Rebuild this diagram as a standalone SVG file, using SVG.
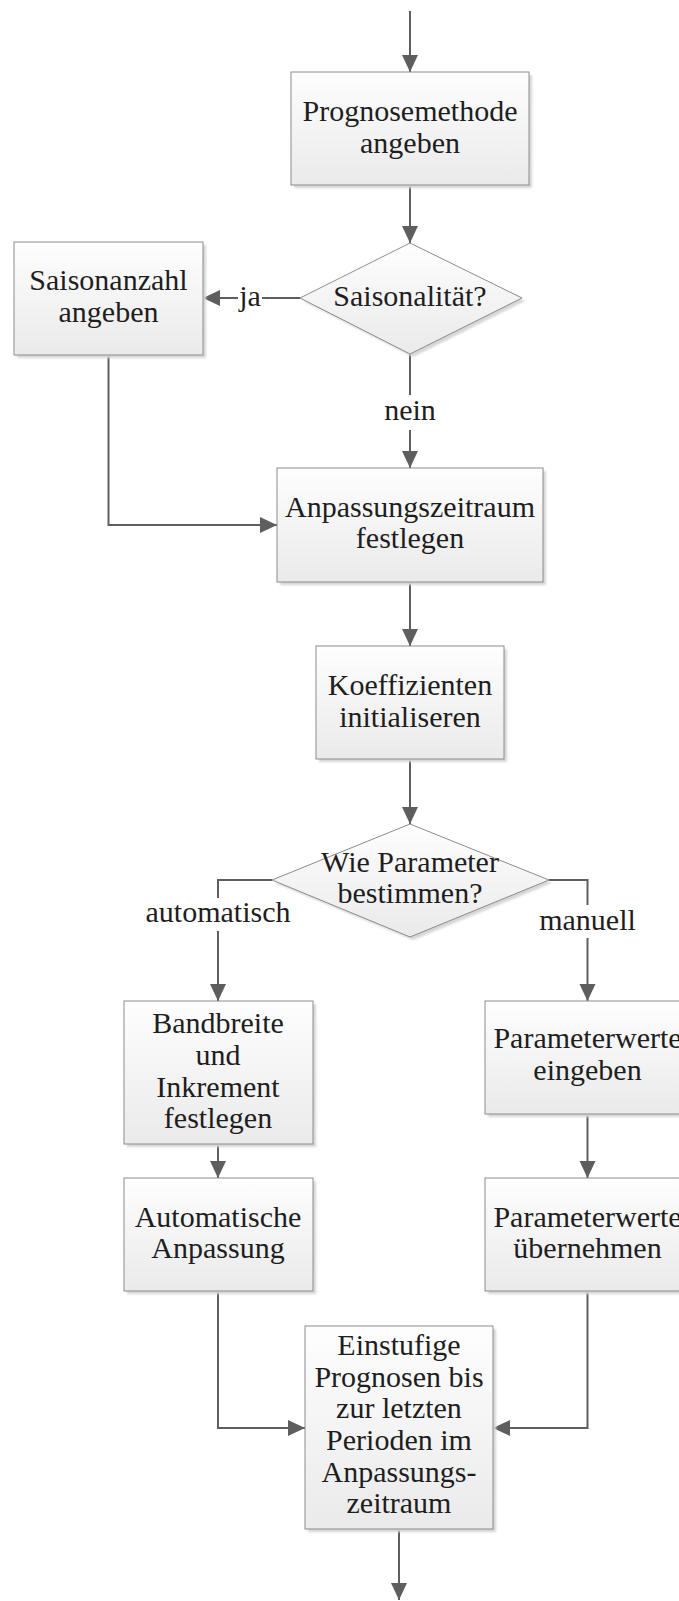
<svg xmlns="http://www.w3.org/2000/svg" width="679" height="1601" viewBox="0 0 679 1601">
<style>
.box{fill:url(#g);stroke:#8c8c8c;stroke-width:1}
.sh{fill:#d6d6d6;filter:url(#blur)}
.t{font-family:"Liberation Serif","Times New Roman",serif;font-size:30px;fill:#1e1e1e;text-anchor:middle}
.c{fill:none;stroke:#5e5e5e;stroke-width:2}
.a{marker-end:url(#ah)}
</style>
<defs>
<linearGradient id="g" x1="0" y1="0" x2="0" y2="1">
<stop offset="0" stop-color="#fefefe"/>
<stop offset="1" stop-color="#eaeaea"/>
</linearGradient>
<filter id="blur" x="-10%" y="-10%" width="120%" height="120%"><feGaussianBlur stdDeviation="1.2"/></filter>
<marker id="ah" markerUnits="userSpaceOnUse" markerWidth="18" markerHeight="18" refX="17" refY="8" orient="auto">
<path d="M0,0 L17,8 L0,16 z" fill="#5e5e5e"/>
</marker>
</defs>
<rect width="679" height="1601" fill="#ffffff"/>

<g id="connectors">
<path class="c a" d="M410,11 V72"/>
<path class="c a" d="M410,185 V243"/>
<path class="c" d="M300,298 H262"/>
<path class="c a" d="M238,298 H203"/>
<text class="t" x="250" y="306">ja</text>
<path class="c" d="M410,354 V395"/>
<path class="c a" d="M410,430 V468"/>
<text class="t" x="410" y="420">nein</text>
<path class="c a" d="M108.5,355 V525 H277"/>
<path class="c a" d="M410,582 V646"/>
<path class="c a" d="M410,759 V824"/>
<path class="c" d="M272,880 H218 V898"/>
<path class="c a" d="M218,931 V1001"/>
<text class="t" x="218" y="922">automatisch</text>
<path class="c" d="M549,880 H587.5 V905"/>
<path class="c a" d="M587.5,938 V1001"/>
<text class="t" x="587.5" y="930">manuell</text>
<path class="c a" d="M218,1144 V1178"/>
<path class="c a" d="M587.5,1114 V1178"/>
<path class="c a" d="M218,1291 V1428 H305"/>
<path class="c a" d="M587.5,1291 V1428 H493"/>
<path class="c a" d="M399,1529 V1600"/>
</g>

<g id="prognosemethode">
<rect class="sh" x="294" y="75" width="238" height="113"/>
<rect class="box" x="291" y="72" width="238" height="113"/>
<text class="t" x="410" y="121">Prognosemethode</text>
<text class="t" x="410" y="153">angeben</text>
</g>

<g id="saisonalitaet">
<polygon class="sh" points="413,246 525,301 413,357 303,301"/>
<polygon class="box" points="410,243 522,298 410,354 300,298"/>
<text class="t" x="410" y="306">Saisonalität?</text>
</g>

<g id="saisonanzahl">
<rect class="sh" x="17" y="245" width="189" height="113"/>
<rect class="box" x="14" y="242" width="189" height="113"/>
<text class="t" x="108.5" y="290">Saisonanzahl</text>
<text class="t" x="108.5" y="322">angeben</text>
</g>

<g id="anpassungszeitraum">
<rect class="sh" x="280" y="471" width="266" height="114"/>
<rect class="box" x="277" y="468" width="266" height="114"/>
<text class="t" x="410" y="517">Anpassungszeitraum</text>
<text class="t" x="410" y="548">festlegen</text>
</g>

<g id="koeffizienten">
<rect class="sh" x="319" y="649" width="188" height="113"/>
<rect class="box" x="316" y="646" width="188" height="113"/>
<text class="t" x="410" y="695">Koeffizienten</text>
<text class="t" x="410" y="727">initialiseren</text>
</g>

<g id="parameter-entscheidung">
<polygon class="sh" points="413,827 552,883 413,940 275,883"/>
<polygon class="box" points="410,824 549,880 410,937 272,880"/>
<text class="t" x="410" y="872">Wie Parameter</text>
<text class="t" x="410" y="903">bestimmen?</text>
</g>

<g id="bandbreite">
<rect class="sh" x="127" y="1004" width="189" height="143"/>
<rect class="box" x="124" y="1001" width="189" height="143"/>
<text class="t" x="218" y="1033">Bandbreite</text>
<text class="t" x="218" y="1065">und</text>
<text class="t" x="218" y="1097">Inkrement</text>
<text class="t" x="218" y="1128">festlegen</text>
</g>

<g id="parameterwerte-eingeben">
<rect class="sh" x="488" y="1004" width="205" height="113"/>
<rect class="box" x="485" y="1001" width="205" height="113"/>
<text class="t" x="587.5" y="1048">Parameterwerte</text>
<text class="t" x="587.5" y="1080">eingeben</text>
</g>

<g id="automatische-anpassung">
<rect class="sh" x="127" y="1181" width="189" height="113"/>
<rect class="box" x="124" y="1178" width="189" height="113"/>
<text class="t" x="218" y="1227">Automatische</text>
<text class="t" x="218" y="1258">Anpassung</text>
</g>

<g id="parameterwerte-uebernehmen">
<rect class="sh" x="488" y="1181" width="205" height="113"/>
<rect class="box" x="485" y="1178" width="205" height="113"/>
<text class="t" x="587.5" y="1227">Parameterwerte</text>
<text class="t" x="587.5" y="1258">übernehmen</text>
</g>

<g id="einstufige-prognosen">
<rect class="sh" x="308" y="1329" width="188" height="203"/>
<rect class="box" x="305" y="1326" width="188" height="203"/>
<text class="t" x="399" y="1355">Einstufige</text>
<text class="t" x="399" y="1387">Prognosen bis</text>
<text class="t" x="399" y="1418">zur letzten</text>
<text class="t" x="399" y="1450">Perioden im</text>
<text class="t" x="399" y="1482">Anpassungs-</text>
<text class="t" x="399" y="1513">zeitraum</text>
</g>
</svg>
